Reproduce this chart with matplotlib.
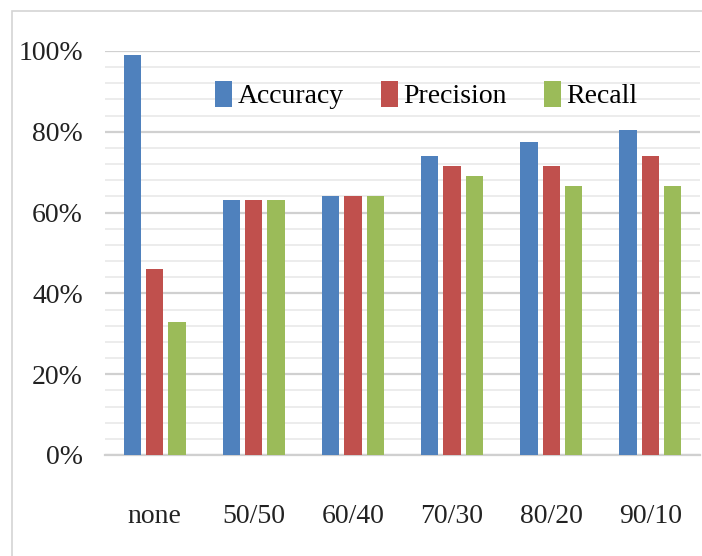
import matplotlib
matplotlib.use("Agg")
import matplotlib.pyplot as plt
from matplotlib.patches import Rectangle
from matplotlib.ticker import MultipleLocator, PercentFormatter
import numpy as np

splits = ["none", "50/50", "60/40", "70/30", "80/20", "90/10"]
accuracy = [99, 63, 64, 74, 77.5, 80.5]
precision = [46, 63, 64, 71.5, 71.5, 74]
recall = [33, 63, 64, 69, 66.5, 66.5]

series = [("Accuracy", accuracy, "#4F81BD"),
          ("Precision", precision, "#C0504D"),
          ("Recall", recall, "#9BBB59")]


def main():
    plt.rcParams["font.family"] = ["Liberation Serif", "DejaVu Serif"]

    fig = plt.figure(figsize=(7.02, 5.56), dpi=100)
    ax = fig.add_axes([105 / 702, 101 / 556, 595 / 702, 404 / 556])

    # thin frame around the chart area
    fig.patches.append(Rectangle((12 / 702, -0.1), 1.2, 0.1 + 545 / 556,
                                 transform=fig.transFigure, fill=False,
                                 edgecolor="#D4D4D4", linewidth=1.2))

    x = np.arange(len(splits))
    width = 0.175
    step = 0.225
    for i, (name, vals, color) in enumerate(series):
        ax.bar(x + (i - 1) * step, vals, width, color=color, label=name,
               zorder=3)

    ax.set_xlim(-0.5, len(splits) - 0.5)
    ax.set_ylim(0, 100)
    ax.yaxis.set_major_locator(MultipleLocator(20))
    ax.yaxis.set_minor_locator(MultipleLocator(4))
    ax.yaxis.set_major_formatter(PercentFormatter(decimals=0))
    ax.grid(axis="y", which="major", color="#D0D0D0", linewidth=1.6, zorder=0)
    ax.grid(axis="y", which="minor", color="#EBEBEB", linewidth=1.3, zorder=0)

    ax.set_xticks(x)
    ax.set_xticklabels(splits)
    ax.tick_params(axis="x", length=0, pad=35, labelsize=20, colors="#222222")
    ax.tick_params(axis="y", which="both", length=0, pad=16, labelsize=20,
                   colors="#222222")
    for s in ["top", "right", "left"]:
        ax.spines[s].set_visible(False)
    ax.spines["bottom"].set_color("#D0D0D0")
    ax.spines["bottom"].set_linewidth(1.6)

    ax.legend(loc="center", bbox_to_anchor=(0.54, 0.891), ncol=3,
              frameon=False, fontsize=20, handlelength=0.6, handleheight=1.1,
              handletextpad=0.2, columnspacing=1.35)

    fig.savefig("out.png", dpi=100, facecolor="white")


if __name__ == "__main__":
    main()
